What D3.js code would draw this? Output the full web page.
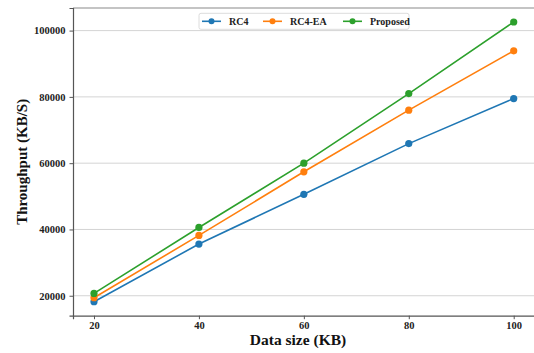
<!DOCTYPE html>
<html>
<head>
<meta charset="utf-8">
<script src="https://cdn.jsdelivr.net/npm/d3@7"></script>
<style>
    body { margin: 0; background: #fff; }
    text { font-family: "Liberation Serif", "Times New Roman", serif; font-weight: bold; }
</style>
</head>
<body>
<script>
var sizes = [20, 40, 60, 80, 100];
var rc4 = [18200, 35600, 50600, 65900, 79500];
var rc4ea = [19400, 38200, 57400, 76000, 93900];
var proposed = [20700, 40600, 60000, 81000, 102600];
var seriesNames = ['RC4', 'RC4-EA', 'Proposed'];
var yTicks = [20000, 40000, 60000, 80000, 100000];

var colors = ['#1f77b4', '#ff7f0e', '#2ca02c'];
var series = [rc4, rc4ea, proposed].map(function (vals, i) {
    return { name: seriesNames[i], values: vals.map(function (v, j) { return { x: sizes[j], y: v }; }) };
});

var svg = d3.select('body').append('svg')
    .attr('width', 534)
    .attr('height', 353);

var x = d3.scaleLinear().domain([16, 104]).range([73, 534.7]);
var y = d3.scaleLinear().domain([13980, 106820]).range([315.7, 8]);

// grid
svg.append('g')
    .selectAll('line')
    .data(yTicks)
    .enter().append('line')
    .attr('x1', x.range()[0]).attr('x2', x.range()[1])
    .attr('y1', y).attr('y2', y)
    .attr('stroke', '#d4d4d4')
    .attr('stroke-width', 1);

// top spine
svg.append('line')
    .attr('x1', 73).attr('x2', 534.7)
    .attr('y1', 8).attr('y2', 8)
    .attr('stroke', '#8a8a8a').attr('stroke-width', 1.2);

var xAxis = svg.append('g')
    .attr('transform', 'translate(0,' + y.range()[0] + ')')
    .call(d3.axisBottom(x).tickValues(sizes).tickSize(3.5).tickPadding(2));
var yAxis = svg.append('g')
    .attr('transform', 'translate(' + x.range()[0] + ',0)')
    .call(d3.axisLeft(y).tickValues(yTicks).tickSize(3.5).tickPadding(4).tickFormat(d3.format('d')));

[xAxis, yAxis].forEach(function (a) {
    a.attr('font-family', null).attr('font-size', null);
    a.select('.domain').attr('stroke', '#555').attr('stroke-width', 1.2);
    a.selectAll('.tick line').attr('stroke', '#555');
    a.selectAll('.tick text')
        .attr('fill', '#222')
        .style('font-size', '10.5px');
});

var line = d3.line()
    .x(function (d) { return x(d.x); })
    .y(function (d) { return y(d.y); });

var g = svg.selectAll('.series')
    .data(series)
    .enter().append('g')
    .attr('class', 'series');

g.append('path')
    .attr('d', function (d) { return line(d.values); })
    .attr('fill', 'none')
    .attr('stroke', function (d, i) { return colors[i]; })
    .attr('stroke-width', 1.6);

g.selectAll('circle')
    .data(function (d, i) { return d.values.map(function (v) { return { x: v.x, y: v.y, c: colors[i] }; }); })
    .enter().append('circle')
    .attr('cx', function (d) { return x(d.x); })
    .attr('cy', function (d) { return y(d.y); })
    .attr('r', 3.6)
    .attr('fill', function (d) { return d.c; });

// legend
var legend = svg.append('g').attr('transform', 'translate(199,13.3)');
legend.append('rect')
    .attr('width', 210).attr('height', 16)
    .attr('rx', 2)
    .attr('fill', '#fff')
    .attr('stroke', '#dcdcdc');

var legendX = [3, 64, 144];
var item = legend.selectAll('.item')
    .data(seriesNames)
    .enter().append('g')
    .attr('transform', function (d, i) { return 'translate(' + legendX[i] + ',8)'; });
item.append('line')
    .attr('x1', 0).attr('x2', 19)
    .attr('stroke', function (d, i) { return colors[i]; })
    .attr('stroke-width', 1.6);
item.append('circle')
    .attr('cx', 9.5).attr('r', 3)
    .attr('fill', function (d, i) { return colors[i]; });
item.append('text')
    .attr('x', 27)
    .attr('dy', '0.35em')
    .style('font-size', '10px')
    .attr('fill', '#222')
    .text(function (d) { return d; });

// axis labels
svg.append('text')
    .attr('x', 298)
    .attr('y', 345)
    .style('text-anchor', 'middle')
    .style('font-size', '15.5px')
    .attr('fill', '#111')
    .text('Data size (KB)');

svg.append('text')
    .attr('transform', 'translate(22,' + (y.range()[0] + y.range()[1]) / 2 + ') rotate(-90)')
    .style('text-anchor', 'middle')
    .attr('dy', '0.35em')
    .style('font-size', '15px')
    .attr('fill', '#111')
    .text('Throughput (KB/S)');
</script>
</body>
</html>
